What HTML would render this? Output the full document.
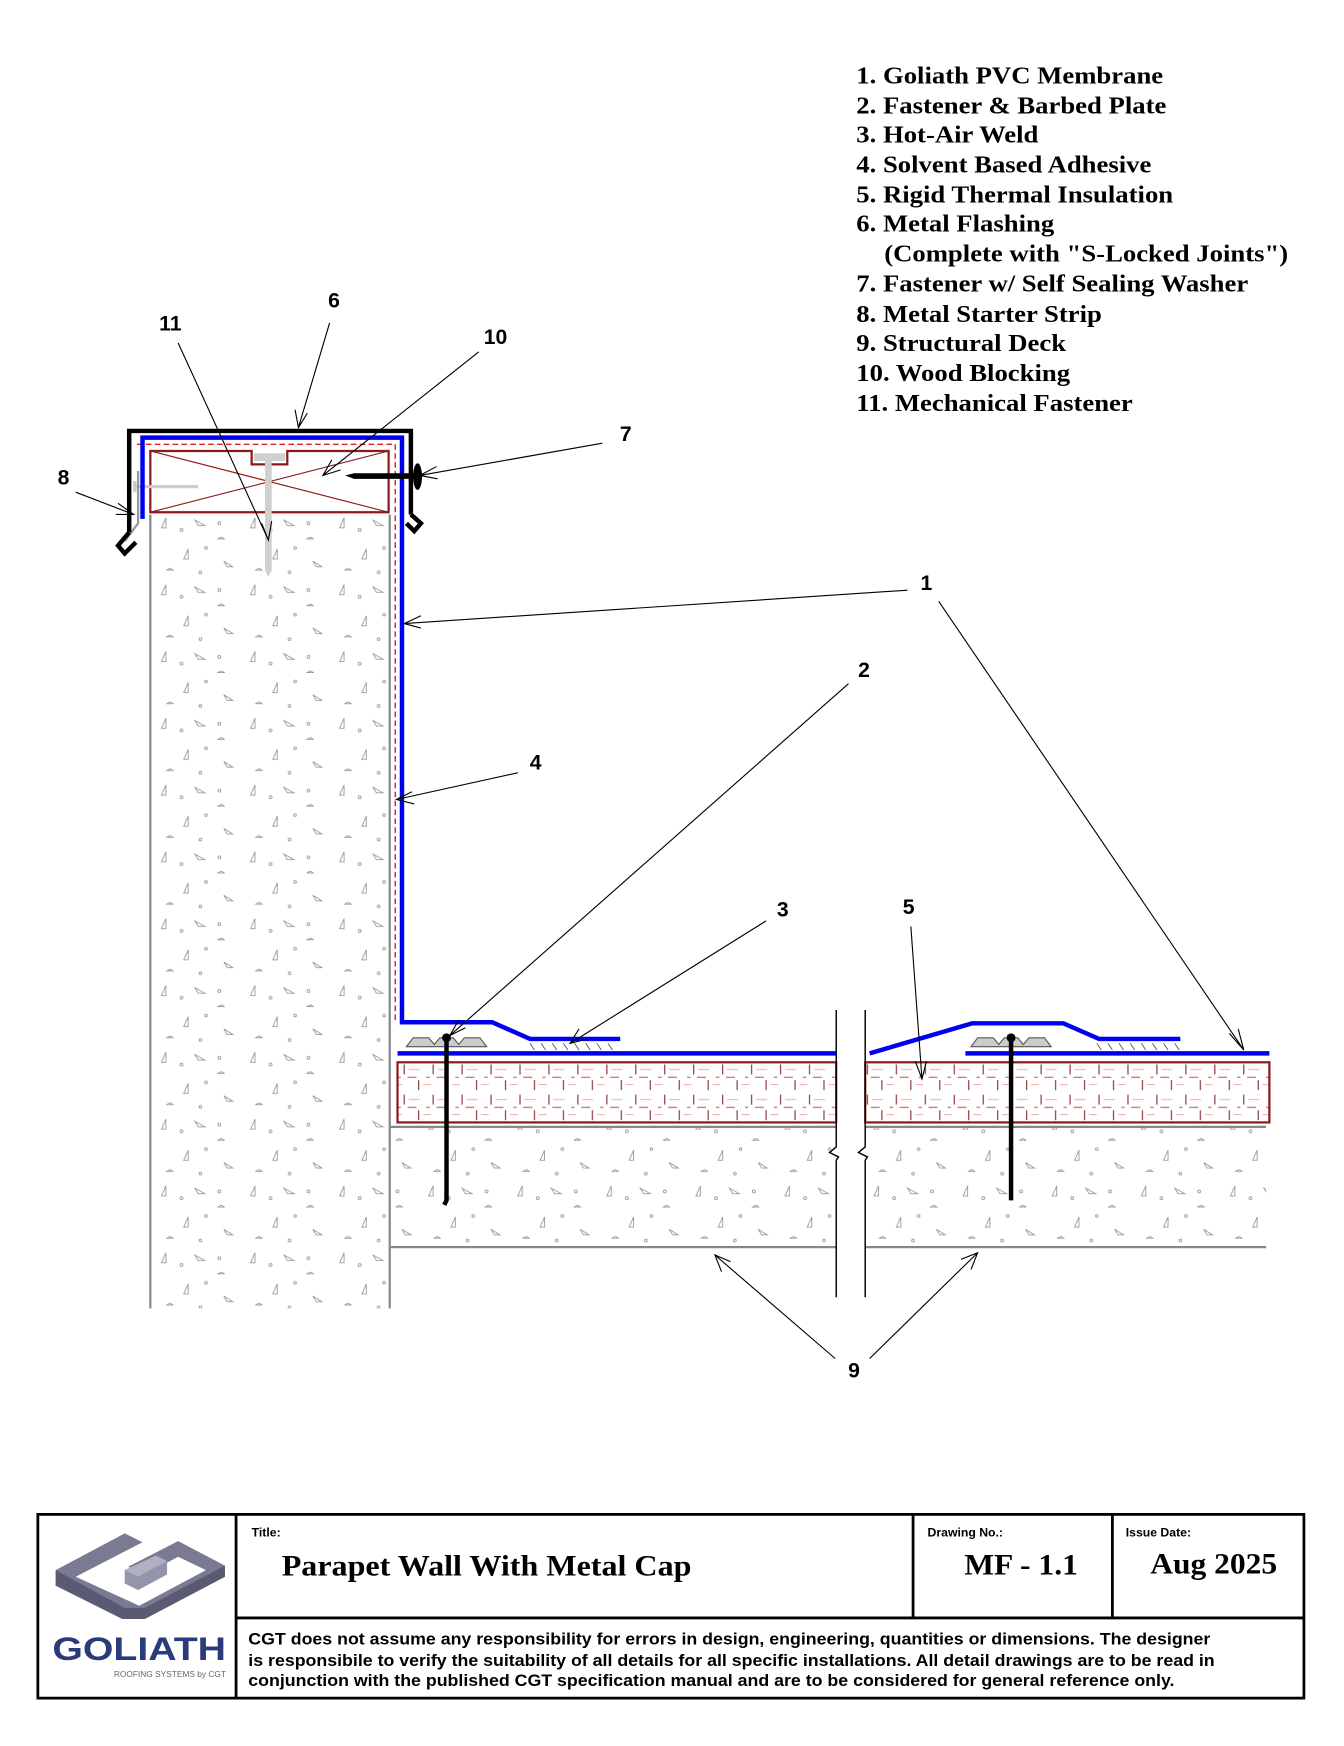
<!DOCTYPE html>
<html><head><meta charset="utf-8"><style>html,body{margin:0;padding:0;background:#fff}svg{display:block}</style></head>
<body>
<svg width="1344" height="1746" viewBox="0 0 1207 1568" preserveAspectRatio="none" xmlns="http://www.w3.org/2000/svg">
<defs>
<pattern id="conc" x="135" y="462" width="80" height="60" patternUnits="userSpaceOnUse">
<g fill="none" stroke="#999" stroke-width="0.8">
<path d="M10 12 l4 -9 v9z"/><path d="M40 5 l9 5 h-6z"/><circle cx="28" cy="14" r="1.3"/><circle cx="62" cy="8" r="1.3"/>
<path d="M60 22 h7 M61 22 q3 -3 5 0"/><path d="M30 40 l4 -9 v9z"/><path d="M66 42 l8 5 h-5z"/>
<circle cx="50" cy="30" r="1.2"/><path d="M14 50 h7 M15 50 q3 -3 5 0"/><circle cx="45" cy="52" r="1.2"/>
</g></pattern>
<pattern id="ins" x="357" y="954" width="26" height="27" patternUnits="userSpaceOnUse">
<g stroke-width="1">
<path d="M6 2 v9 M19 16 v9" stroke="#8a2a2a"/>
<path d="M10 6.5 h10 M-3 20 h7 M23 20 h7" stroke="#f0b0b0"/>
<path d="M0 13.5 h3 M9 13.5 h8" stroke="#c07070"/>
</g></pattern>
</defs>
<rect width="1207" height="1568" fill="#fff"/>

<!-- legend -->
<g font-family="Liberation Serif, serif" font-weight="bold" font-size="22" fill="#000" transform="translate(769,0) scale(1.09,1) translate(-769,0)">
<text x="769" y="75">1. Goliath PVC Membrane</text>
<text x="769" y="102">2. Fastener &amp; Barbed Plate</text>
<text x="769" y="128">3. Hot-Air Weld</text>
<text x="769" y="155">4. Solvent Based Adhesive</text>
<text x="769" y="182">5. Rigid Thermal Insulation</text>
<text x="769" y="208">6. Metal Flashing</text>
<text x="792" y="235">(Complete with "S-Locked Joints")</text>
<text x="769" y="262">7. Fastener w/ Self Sealing Washer</text>
<text x="769" y="289">8. Metal Starter Strip</text>
<text x="769" y="315">9. Structural Deck</text>
<text x="769" y="342">10. Wood Blocking</text>
<text x="769" y="369">11. Mechanical Fastener</text>
</g>

<!-- parapet concrete -->
<rect x="135" y="462" width="215" height="713" fill="url(#conc)"/>
<path d="M135 462 V1175 M350 462 V1175" stroke="#888" stroke-width="2" fill="none"/>
<!-- deck -->
<rect x="350" y="1012" width="401" height="108" fill="url(#conc)"/>
<rect x="777" y="1012" width="360" height="108" fill="url(#conc)"/>
<path d="M350 1012 H751 M777 1012 H1137 M350 1120 H751 M777 1120 H1137" stroke="#888" stroke-width="2"/>
<!-- insulation -->
<rect x="357" y="954" width="394" height="54" fill="url(#ins)" stroke="#8b1a1a" stroke-width="2"/>
<rect x="777" y="954" width="363" height="54" fill="url(#ins)" stroke="#8b1a1a" stroke-width="2"/>
<rect x="752" y="950" width="24" height="62" fill="#fff"/>
<!-- break lines -->
<path d="M751 907 V1030 l-6 5 l8 4 l-2 3 V1165 M777 907 V1030 l-6 5 l8 4 l-2 3 V1165" stroke="#000" stroke-width="1.3" fill="none"/>

<!-- wood blocking -->
<path d="M135 405 H226 V417 H258 V405 H349 V460 H135 Z" fill="#fff" stroke="#8b1a1a" stroke-width="2"/>
<path d="M135 405 L349 460 M135 460 L349 405" stroke="#8b1a1a" stroke-width="1"/>
<!-- fastener 11 -->
<path d="M228 407 H256 V414 H244 V512 l-3 6 l-3 -6 V414 H228Z" fill="#d0d0d0"/>
<!-- nail 8 -->
<path d="M121 432 V442 M122 437 H178" stroke="#ccc" stroke-width="3"/>
<!-- starter strip -->
<path d="M124 423 V470 L112 486" stroke="#999" stroke-width="2" fill="none"/>
<!-- adhesive dashed -->
<path d="M123 399 H355 V918" stroke="#d22" stroke-width="1.3" stroke-dasharray="5,3" fill="none"/>
<!-- blue membrane -->
<path d="M128 466 V393 H361 V918 H442 L476 933 H557" stroke="#0000f0" stroke-width="4" fill="none"/>
<path d="M357 946 H751 M781 946 L873 919 H955 L987 933 H1060 M867 946 H1140" stroke="#0000f0" stroke-width="4" fill="none"/>
<!-- weld hatch -->
<g stroke="#555" stroke-width="0.8">
<path d="M476 937 l4 6 M486 937 l4 6 M496 937 l4 6 M506 937 l4 6 M516 937 l4 6 M526 937 l4 6 M536 937 l4 6 M546 937 l4 6"/>
<path d="M985 937 l4 6 M995 937 l4 6 M1005 937 l4 6 M1015 937 l4 6 M1025 937 l4 6 M1035 937 l4 6 M1045 937 l4 6 M1055 937 l4 6"/>
</g>
<!-- metal cap -->
<path d="M116 478 V387 H369 V462 M116 478 L106 490 L112 497 L122 487 M369 462 L378 470 L372 477 L365 470" stroke="#000" stroke-width="4" fill="none" stroke-linejoin="miter"/>
<!-- fastener 7 -->
<path d="M310 427 l8 -2 H373 V430 H318Z" fill="#000"/>
<ellipse cx="375" cy="428" rx="4" ry="12" fill="#000"/>

<!-- roof fasteners & plates -->
<g>
<path d="M365 940 l6 -8 h14 l5 6 l5 -6 h12 l5 6 l5 -6 h14 l6 8 Z" fill="#ccc" stroke="#555" stroke-width="1"/>
<path d="M401 932 V1078 l-2 4" stroke="#000" stroke-width="4"/><circle cx="401" cy="932" r="4" fill="#000"/>
<path d="M872 940 l6 -8 h14 l5 6 l5 -6 h12 l5 6 l5 -6 h14 l6 8 Z" fill="#ccc" stroke="#555" stroke-width="1"/>
<path d="M908 932 V1078" stroke="#000" stroke-width="4"/><circle cx="908" cy="932" r="4" fill="#000"/>
</g>

<!-- leaders -->
<g stroke="#000" stroke-width="1" fill="none">
<path d="M160 308 L241 485 M235 470 L241 485 L244 468"/>
<path d="M296 290 L268 384 M265 368 L268 384 L276 371"/>
<path d="M430 316 L290 427 M298 413 L290 427 L306 422"/>
<path d="M541 398 L377 427 M392 419 L377 427 L393 430"/>
<path d="M68 442 L120 462 M106 452 L120 462 L104 462"/>
<path d="M815 530 L363 560 M378 553 L363 560 L378 564"/>
<path d="M843 540 L1117 943 M1104 928 L1117 943 L1112 924"/>
<path d="M762 614 L404 930 M412 916 L404 930 L418 923"/>
<path d="M465 694 L356 718 M370 711 L356 718 L372 722"/>
<path d="M688 827 L512 937 M520 924 L512 937 L527 933"/>
<path d="M818 832 L828 969 M822 953 L828 969 L832 953"/>
<path d="M750 1220 L642 1127 M648 1142 L642 1127 L656 1133"/>
<path d="M781 1220 L878 1125 M863 1131 L878 1125 L872 1140"/>
</g>
<g font-family="Liberation Sans, sans-serif" font-weight="bold" font-size="19" fill="#000" text-anchor="middle">
<text x="153" y="297">11</text><text x="300" y="276">6</text><text x="445" y="309">10</text>
<text x="562" y="396">7</text><text x="57" y="435">8</text><text x="832" y="530">1</text>
<text x="776" y="608">2</text><text x="481" y="691">4</text><text x="703" y="823">3</text>
<text x="816" y="821">5</text><text x="767" y="1237">9</text>
</g>

<!-- title block -->
<g stroke="#000" fill="none">
<rect x="34" y="1360" width="1137" height="165" stroke-width="2.5"/>
<path d="M212 1360 V1525 M212 1453 H1171 M820 1360 V1453 M999 1360 V1453" stroke-width="2.5"/>
</g>
<g font-family="Liberation Sans, sans-serif" font-weight="bold" font-size="11" fill="#000">
<text x="226" y="1380">Title:</text><text x="833" y="1380">Drawing No.:</text><text x="1011" y="1380">Issue Date:</text>
</g>
<g font-family="Liberation Serif, serif" font-weight="bold" font-size="27" fill="#000">
<text x="253" y="1415" textLength="368" lengthAdjust="spacingAndGlyphs">Parapet Wall With Metal Cap</text>
<text x="866" y="1414" textLength="102" lengthAdjust="spacingAndGlyphs">MF - 1.1</text>
<text x="1033" y="1413" textLength="114" lengthAdjust="spacingAndGlyphs">Aug 2025</text>
</g>
<g font-family="Liberation Sans, sans-serif" font-weight="bold" font-size="14.5" fill="#000" transform="translate(223,0) scale(1.1,1) translate(-223,0)">
<text x="223" y="1477">CGT does not assume any responsibility for errors in design, engineering, quantities or dimensions. The designer</text>
<text x="223" y="1496">is responsibile to verify the suitability of all details for all specific installations. All detail drawings are to be read in</text>
<text x="223" y="1514">conjunction with the published CGT specification manual and are to be considered for general reference only.</text>
</g>
<!-- logo -->
<g>
<path d="M50 1410 L112 1377 L128 1385 L68 1416 L125 1442 L185 1410 L160 1398 L130 1414 L115 1407 L160 1384 L202 1406 L202 1416 L130 1454 L110 1454 L50 1424 Z" fill="#7a7a92"/>
<path d="M50 1410 L50 1424 L110 1454 L130 1454 L202 1416 L202 1406 L130 1444 L112 1444 Z" fill="#5a5a72"/>
<path d="M112 1410 L140 1397 L150 1402 L150 1414 L124 1428 L112 1422 Z" fill="#9494aa"/>
<path d="M112 1410 L124 1416 L150 1402 L140 1397 Z" fill="#b0b0c2"/>
</g>
<text x="125" y="1491" font-family="Liberation Sans, sans-serif" font-weight="bold" font-size="29" fill="#2a3a7a" text-anchor="middle" textLength="156" lengthAdjust="spacingAndGlyphs">GOLIATH</text>
<text x="203" y="1506" font-family="Liberation Sans, sans-serif" font-size="7.5" fill="#666" text-anchor="end">ROOFING SYSTEMS by CGT</text>
</svg>
</body></html>
